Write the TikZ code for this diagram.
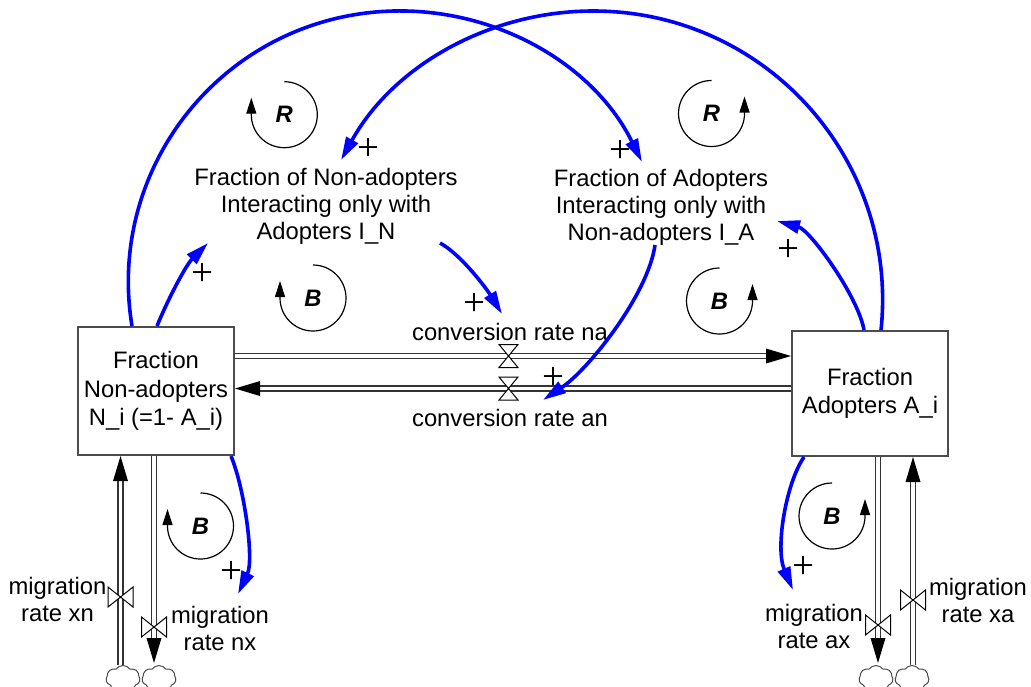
\documentclass[tikz,border=0pt]{standalone}
\usepackage{fontspec}
\setmainfont{Liberation Sans}
\newfontfamily\plusfont{Liberation Serif}
\usetikzlibrary{arrows.meta,calc,shapes.symbols}
\tikzset{
  txt/.style={font=\fontsize{11.9pt}{13.5pt}\selectfont, align=center, inner sep=0pt},
  stock/.style={draw=black!70, line width=1pt, fill=white, inner sep=0pt, minimum width=78pt, font=\fontsize{11.9pt}{14.3pt}\selectfont, align=center},
  infolink/.style={draw=blue, line width=1.8pt, -{Triangle[length=11.5pt,width=6.5pt]}},
  flowpipe/.style={draw=black!80, line width=0.65pt, double=white, double distance=1.85pt},
  tipfill/.style={fill=black},
  valveshape/.style={draw=black, fill=white, line width=0.5pt},
  loopline/.style={draw=black, line width=0.6pt, -{Triangle[length=8pt,width=5pt]}},
  looptext/.style={font=\fontsize{11.9pt}{13.5pt}\selectfont\bfseries\itshape, inner sep=0pt},
  polar/.style={font=\plusfont\fontsize{19.5pt}{19.5pt}\selectfont, inner sep=0pt},
  cloudnode/.style={cloud, draw=black!70, line width=0.5pt, cloud puffs=7, cloud puff arc=110, aspect=1.25, minimum width=17pt, minimum height=13pt, inner sep=0pt},
  hvalve/.pic={\draw[valveshape] (-9.5,-11.5) -- (9.5,-11.5) -- (0,0) -- cycle (-9.5,11.5) -- (9.5,11.5) -- (0,0) -- cycle;},
  vvalve/.pic={\draw[valveshape] (-12.5,-10) -- (-12.5,10) -- (0,0) -- cycle (12.5,-10) -- (12.5,10) -- (0,0) -- cycle;},
  loopcw/.pic={\draw[loopline] (0,-33) arc[start angle=-90,end angle=180,radius=33] -- ++(0,-17); \node[looptext] at (0,0) {#1};},
  loopccw/.pic={\draw[loopline] (0,-33) arc[start angle=-90,end angle=-360,radius=33] -- ++(0,-17); \node[looptext] at (0,0) {#1};}
}
\begin{document}
\begin{tikzpicture}[x=0.5pt,y=-0.5pt]
\useasboundingbox (0,0) rectangle (1031,686);
\clip (0,0) rectangle (1031,686);
\fill[white] (0,0) rectangle (1031,686);

% stocks and texts
\node[stock, minimum height=64pt] (boxN) at (156,391) {Fraction\\Non-adopters\\N\_i (=1- A\_i)};
\node[stock, minimum height=62.5pt] (boxA) at (870,393.5) {Fraction\\Adopters A\_i};
\node[txt] (IN) at (326,206) {Fraction of Non-adopters\\Interacting only with\\Adopters I\_N};
\node[txt] (IA) at (661,207) {Fraction of Adopters\\Interacting only with\\Non-adopters I\_A};
\node[txt] (cna) at (510,332) {conversion rate na};
\node[txt] (can) at (510,418) {conversion rate an};
\node[txt] (mxn) at (57.5,599) {migration\\rate xn};
\node[txt] (mnx) at (220,628.5) {migration\\rate nx};
\node[txt] (max) at (814,626.5) {migration\\rate ax};
\node[txt] (mxa) at (978,600.5) {migration\\rate xa};

% clouds
\node[cloudnode] (cxn) at (123,678.5) {};
\node[cloudnode] (cnx) at (159,678.5) {};
\node[cloudnode] (cax) at (876,678.5) {};
\node[cloudnode] (cxa) at (912,678.5) {};

% valve positions
\coordinate (vna) at (508.5,356);
\coordinate (van) at (508.5,388.5);
\coordinate (vxn) at (120.5,597);
\coordinate (vnx) at (154,627);
\coordinate (vax) at (878,625);
\coordinate (vxa) at (913,600);

% flow pipes
\draw[flowpipe] (boxN.east |- vna) -- ($(boxA.west |- vna)+(-24,0)$);
\fill[tipfill] (boxA.west |- vna) -- ++(-25,-7.5) -- ++(0,15) -- cycle;
\draw[flowpipe] (boxA.west |- van) -- ($(boxN.east |- van)+(24,0)$);
\fill[tipfill] (boxN.east |- van) -- ++(25,-7.5) -- ++(0,15) -- cycle;
\draw[flowpipe] (vxn |- cxn.north) -- ($(vxn |- boxN.south)+(0,24)$);
\fill[tipfill] (vxn |- boxN.south) -- ++(-7.5,25) -- ++(15,0) -- cycle;
\draw[flowpipe] (vnx |- boxN.south) -- ($(vnx |- cnx.north)+(0,-26)$);
\fill[tipfill] ($(vnx |- cnx.north)+(0,-2)$) -- ++(-7.5,-25) -- ++(15,0) -- cycle;
\draw[flowpipe] (vax |- boxA.south) -- ($(vax |- cax.north)+(0,-26)$);
\fill[tipfill] ($(vax |- cax.north)+(0,-2)$) -- ++(-7.5,-25) -- ++(15,0) -- cycle;
\draw[flowpipe] (vxa |- cxa.north) -- ($(vxa |- boxA.south)+(0,24)$);
\fill[tipfill] (vxa |- boxA.south) -- ++(-7.5,25) -- ++(15,0) -- cycle;

% valves
\pic at (vna) {hvalve};
\pic at (van) {hvalve};
\pic at (vxn) {vvalve};
\pic at (vnx) {vvalve};
\pic at (vax) {vvalve};
\pic at (vxa) {vvalve};

% link end points
\coordinate (eIN1) at (208,243);
\coordinate (eIA1) at (777,221);
\coordinate (sIN) at (440,243);
\coordinate (ecna) at (502,314);
\coordinate (sIA) at (655,245);
\coordinate (ecan) at (543,400);
\coordinate (emnx) at (238,594);
\coordinate (emax) at (793,590);

% information links
\draw[infolink] ($(boxN.north west)+(55,0)$) arc[start angle=170.6, end angle=333.7, radius=270.8];
\draw[infolink] ($(boxA.north west)+(90,0)$) arc[start angle=6, end angle=-151.05, radius=288.8];
\draw[infolink] ($(boxN.north west)+(80,0)$) .. controls (168,299) and (186,265) .. (eIN1);
\draw[infolink] ($(boxA.north west)+(73,0)$) .. controls (858,296) and (810,230) .. (eIA1);
\draw[infolink] (sIN) .. controls (462,255) and (488,291) .. (ecna);
\draw[infolink] (sIA) .. controls (648,295) and (588,370) .. (ecan);
\draw[infolink] ($(boxN.south east)+(-4,0)$) .. controls (245,490) and (254,560) .. (emnx);
\draw[infolink] ($(boxA.south west)+(13,0)$) .. controls (786,483) and (775,548) .. (emax);

% polarities
\node[polar] (p1) at (368,149) {+};
\node[polar] (p2) at (620,151.5) {+};
\node[polar] (p3) at (202.5,274) {+};
\node[polar] (p4) at (474.5,304.5) {+};
\node[polar] (p5) at (788,250.5) {+};
\node[polar] (p6) at (553,378) {+};
\node[polar] (p7) at (231,572) {+};
\node[polar] (p8) at (803.5,567.5) {+};

% loop markers
\pic at (284.3,114.7) {loopcw=R};
\pic at (711.5,113.5) {loopccw=R};
\pic at (313,298) {loopcw=B};
\pic at (719.5,301) {loopccw=B};
\pic at (200.5,526) {loopcw=B};
\pic at (832,516) {loopccw=B};
\end{tikzpicture}
\end{document}
